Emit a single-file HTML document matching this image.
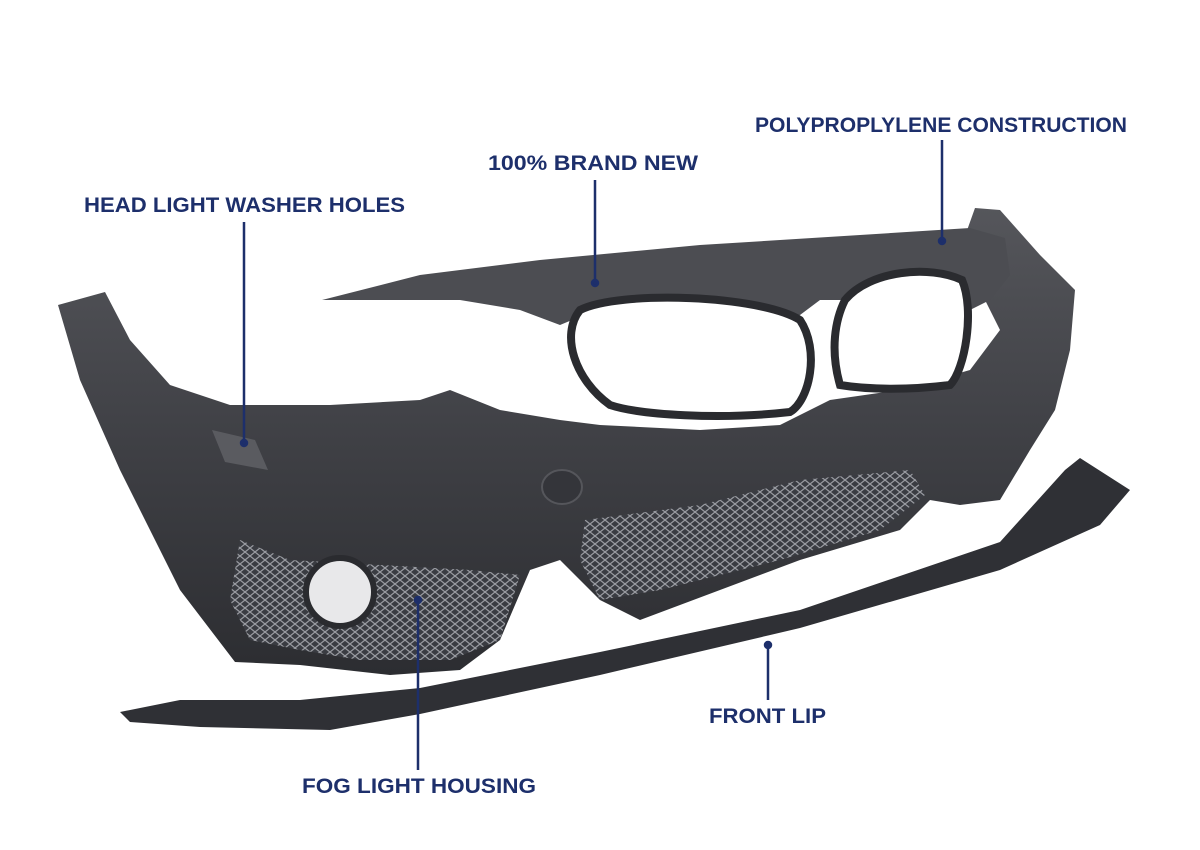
<!DOCTYPE html>
<html><head><meta charset="utf-8"><style>
html,body{margin:0;padding:0;background:#fff;}
svg{display:block}
</style></head><body>
<svg width="1200" height="850" viewBox="0 0 1200 850" xmlns="http://www.w3.org/2000/svg">
<defs>
<pattern id="mesh" width="10" height="8" patternUnits="userSpaceOnUse">
<rect width="10" height="8" fill="#3a3c42"/>
<path d="M0 4 L5 0 L10 4 L5 8 Z" fill="none" stroke="#9a9ca2" stroke-width="1.2"/>
</pattern>
<linearGradient id="body" x1="0" y1="0" x2="0" y2="1">
<stop offset="0" stop-color="#55565b"/><stop offset="0.5" stop-color="#3f4045"/><stop offset="1" stop-color="#2c2d31"/>
</linearGradient>
</defs>
<rect width="1200" height="850" fill="#fff"/>
<path d="M58 305 L105 292 L130 340 L170 385 L230 405 L330 405 L420 400 L450 390 L500 410 L560 420 L600 425 L700 430 L780 425 L830 400 L900 390 L970 370 L1000 330 L985 300 L960 250 L975 208 L1000 210 L1040 255 L1075 290 L1070 350 L1055 410 L1030 450 L1000 500 L960 505 L930 500 L900 530 L800 560 L640 620 L600 600 L560 560 L530 570 L500 640 L460 670 L390 675 L300 665 L235 662 L180 590 L120 470 L80 380 Z" fill="url(#body)"/>
<path d="M322 300 L420 275 L540 260 L700 245 L860 235 L970 228 L1005 238 L1010 275 L990 300 L950 320 L880 300 L820 300 L780 330 L750 315 L690 305 L620 300 L560 325 L520 310 L460 300 L380 300 Z" fill="#4c4d52"/>
<path d="M580 310 C620 290 760 295 800 320 C820 350 810 400 790 412 C720 420 640 415 610 405 C575 380 560 335 580 310 Z" fill="#fff" stroke="#2a2b2f" stroke-width="8"/>
<path d="M845 300 C870 270 930 265 962 280 C975 310 965 370 950 385 C910 390 870 390 840 385 C830 350 835 320 845 300 Z" fill="#fff" stroke="#2a2b2f" stroke-width="8"/>
<path d="M585 520 L700 505 L800 480 L910 470 L925 495 L880 530 L780 560 L660 590 L600 600 L580 560 Z" fill="url(#mesh)"/>
<path d="M240 540 L290 560 L380 565 L470 570 L520 575 L500 640 L450 660 L360 660 L300 650 L250 640 L230 600 Z" fill="url(#mesh)"/>
<circle cx="340" cy="592" r="34" fill="#e8e8ea" stroke="#2a2b2f" stroke-width="6"/>
<ellipse cx="562" cy="487" rx="20" ry="17" fill="#34353a" stroke="#55565b" stroke-width="2"/>
<path d="M212 430 L255 440 L268 470 L225 462 Z" fill="#5a5b60"/>
<path d="M120 712 L180 700 L300 700 L420 688 L600 652 L800 610 L1000 542 L1065 470 L1080 458 L1130 490 L1100 525 L1000 570 L800 628 L600 675 L420 714 L330 730 L200 727 L130 722 Z" fill="#2f3035"/>
<g stroke="#1d2f6b" stroke-width="2.5" fill="#1d2f6b">
<line x1="942" y1="140" x2="942" y2="240"/><circle cx="942" cy="241" r="3"/>
<line x1="595" y1="180" x2="595" y2="282"/><circle cx="595" cy="283" r="3"/>
<line x1="244" y1="222" x2="244" y2="442"/><circle cx="244" cy="443" r="3"/>
<line x1="768" y1="645" x2="768" y2="700"/><circle cx="768" cy="645" r="3"/>
<line x1="418" y1="600" x2="418" y2="770"/><circle cx="418" cy="600" r="3"/>
</g>
<g font-family="Liberation Sans, sans-serif" font-weight="bold" font-size="21" fill="#1d2f6b" stroke="#fff" stroke-width="4" paint-order="stroke">
<text x="755" y="132" textLength="372" lengthAdjust="spacingAndGlyphs">POLYPROPLYLENE CONSTRUCTION</text>
<text x="488" y="170" textLength="210" lengthAdjust="spacingAndGlyphs">100% BRAND NEW</text>
<text x="84" y="212" textLength="321" lengthAdjust="spacingAndGlyphs">HEAD LIGHT WASHER HOLES</text>
<text x="709" y="723" textLength="117" lengthAdjust="spacingAndGlyphs">FRONT LIP</text>
<text x="302" y="793" textLength="234" lengthAdjust="spacingAndGlyphs">FOG LIGHT HOUSING</text>
</g>
</svg>
</body></html>
